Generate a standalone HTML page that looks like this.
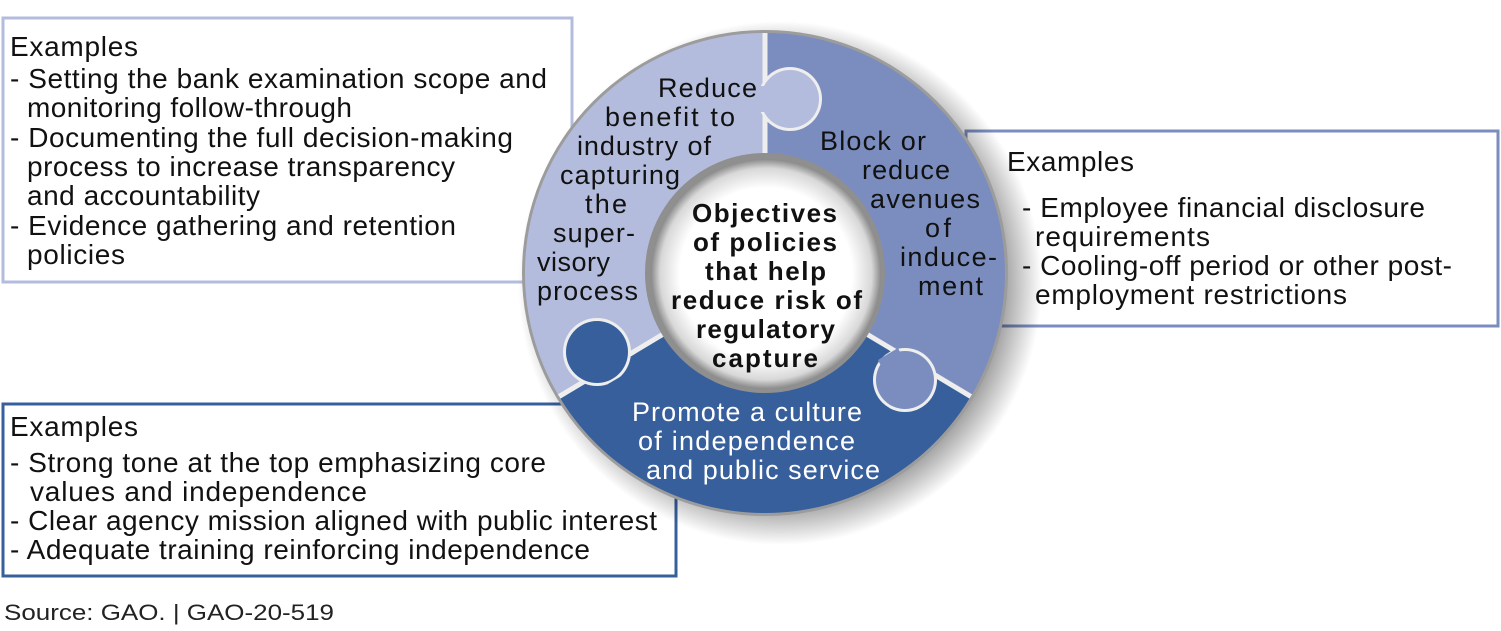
<!DOCTYPE html>
<html><head><meta charset="utf-8"><style>
html,body{margin:0;padding:0;background:#fff;}
svg{display:block;font-family:"Liberation Sans",Arial,sans-serif;}
</style></head><body>
<svg width="1501" height="631" viewBox="0 0 1501 631" xmlns="http://www.w3.org/2000/svg">
<defs>
  <clipPath id="ann"><path d="M765,33 a240,240 0 1,1 -0.1,0 Z M765,158 a115,115 0 1,0 0.1,0 Z" clip-rule="evenodd"/></clipPath>
  <radialGradient id="sh" cx="0.5" cy="0.5" r="0.5">
    <stop offset="0.86" stop-color="#000" stop-opacity="0.35"/>
    <stop offset="1" stop-color="#000" stop-opacity="0"/>
  </radialGradient>
  <radialGradient id="ctr" cx="0.5" cy="0.5" r="0.5">
    <stop offset="0.75" stop-color="#fff"/>
    <stop offset="0.92" stop-color="#d8d8d8"/>
    <stop offset="1" stop-color="#8a8a8a"/>
  </radialGradient>
</defs>
<rect x="3" y="18" width="569" height="264" fill="#fff" stroke="#b3bcdd" stroke-width="3"/>
<rect x="966" y="131" width="532" height="195" fill="#fff" stroke="#7a8dbe" stroke-width="3"/>
<rect x="3" y="404" width="673" height="172" fill="#fff" stroke="#375f9c" stroke-width="3"/>
<circle cx="780" cy="283" r="262" fill="url(#sh)"/>
<circle cx="765" cy="273" r="243" fill="#9c9c9c"/>
<g clip-path="url(#ann)">
  <path d="M765,273 L765,20 A260,260 0 0,1 988,407 Z" fill="#7a8dbe"/>
  <path d="M765,273 L988,407 A260,260 0 0,1 542,407 Z" fill="#375f9c"/>
  <path d="M765,273 L542,407 A260,260 0 0,1 765,20 Z" fill="#b3bcdd"/>
  <circle cx="790" cy="99" r="32" fill="#eeeeee"/>
  <circle cx="597" cy="352" r="34" fill="#eeeeee"/>
  <circle cx="905" cy="380" r="32" fill="#eeeeee"/>
  <line x1="765" y1="30" x2="765" y2="160" stroke="#eeeeee" stroke-width="5"/>
  <line x1="765" y1="273" x2="550" y2="402" stroke="#eeeeee" stroke-width="5"/>
  <line x1="765" y1="273" x2="980" y2="402" stroke="#eeeeee" stroke-width="5"/>
  <circle cx="790" cy="99" r="29" fill="#b3bcdd"/>
  <rect x="755" y="86" width="16" height="26" fill="#b3bcdd"/>
  <circle cx="597" cy="352" r="31" fill="#375f9c"/>
  <path d="M608,384 L625,374 L631,394 L614,404 Z" fill="#375f9c"/>
  <circle cx="905" cy="380" r="29" fill="#7a8dbe"/>
  <path d="M878,360 L898,348 L905,362 L885,374 Z" fill="#7a8dbe"/>
</g>
<circle cx="765" cy="273" r="120" fill="#8f8f8f"/>
<circle cx="766" cy="274" r="115" fill="url(#ctr)"/>
<g font-size="27" fill="#111" lengthAdjust="spacingAndGlyphs">
  <text x="658" y="97" textLength="99">Reduce</text>
  <text x="605" y="126" textLength="130">benefit to</text>
  <text x="577" y="155" textLength="134">industry of</text>
  <text x="560" y="184" textLength="120">capturing</text>
  <text x="585" y="213" textLength="42">the</text>
  <text x="553" y="242" textLength="82">super-</text>
  <text x="537" y="271" textLength="73">visory</text>
  <text x="537" y="300" textLength="101">process</text>
  <text x="820" y="150" textLength="106">Block or</text>
  <text x="862" y="179" textLength="88">reduce</text>
  <text x="870" y="208" textLength="110">avenues</text>
  <text x="925" y="237" textLength="26">of</text>
  <text x="900" y="266" textLength="97">induce-</text>
  <text x="918" y="295" textLength="65">ment</text>
</g>
<g font-size="27" fill="#fff" lengthAdjust="spacingAndGlyphs">
  <text x="632" y="421" textLength="230">Promote a culture</text>
  <text x="638" y="450" textLength="217">of independence</text>
  <text x="646" y="479" textLength="234">and public service</text>
</g>
<g font-size="26" font-weight="bold" fill="#111" lengthAdjust="spacingAndGlyphs">
  <text x="692" y="222" textLength="145">Objectives</text>
  <text x="693" y="251" textLength="144">of policies</text>
  <text x="705" y="280" textLength="121">that help</text>
  <text x="671" y="309" textLength="191">reduce risk of</text>
  <text x="696" y="338" textLength="139">regulatory</text>
  <text x="712" y="367" textLength="106">capture</text>
</g>
<g font-size="28" fill="#111" lengthAdjust="spacingAndGlyphs">
  <text x="10" y="56" textLength="128">Examples</text>
  <text x="10" y="88" textLength="537">- Setting the bank examination scope and</text>
  <text x="27" y="117" textLength="325">monitoring follow-through</text>
  <text x="10" y="147" textLength="503">- Documenting the full decision-making</text>
  <text x="27" y="176" textLength="428">process to increase transparency</text>
  <text x="27" y="205" textLength="233">and accountability</text>
  <text x="10" y="235" textLength="446">- Evidence gathering and retention</text>
  <text x="27" y="264" textLength="98">policies</text>

  <text x="1007" y="171" textLength="127">Examples</text>
  <text x="1022" y="217" textLength="403">- Employee financial disclosure</text>
  <text x="1035" y="246" textLength="175">requirements</text>
  <text x="1022" y="275" textLength="430">- Cooling-off period or other post-</text>
  <text x="1035" y="304" textLength="312">employment restrictions</text>

  <text x="10" y="436" textLength="128">Examples</text>
  <text x="10" y="472" textLength="536">- Strong tone at the top emphasizing core</text>
  <text x="30" y="501" textLength="337">values and independence</text>
  <text x="10" y="530" textLength="647">- Clear agency mission aligned with public interest</text>
  <text x="10" y="559" textLength="580">- Adequate training reinforcing independence</text>
</g>
<text x="4" y="620" font-size="22" fill="#222" textLength="330" lengthAdjust="spacingAndGlyphs">Source: GAO.  |  GAO-20-519</text>
</svg>
</body></html>
